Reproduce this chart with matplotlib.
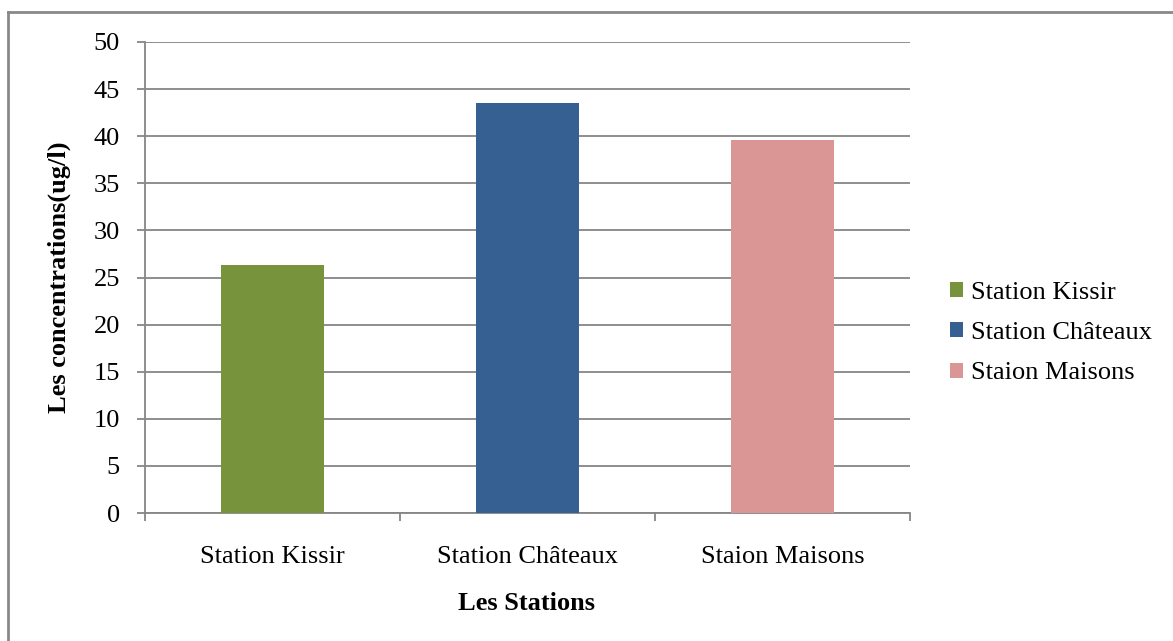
import matplotlib
matplotlib.use("Agg")
import matplotlib.pyplot as plt
from matplotlib.patches import Patch
from matplotlib.lines import Line2D
from matplotlib.ticker import FixedLocator

stations = ["Station Kissir", "Station Châteaux", "Staion Maisons"]
concentrations = [26.3, 43.5, 39.6]
colors = ["#77933C", "#376092", "#D99694"]
y_ticks = [0, 5, 10, 15, 20, 25, 30, 35, 40, 45, 50]

plt.rcParams["font.family"] = ["Liberation Serif", "DejaVu Serif"]
FS = 19
GREY = "#868686"

fig = plt.figure(figsize=(11.73, 6.41), dpi=100)
ax = fig.add_axes([145 / 1173, 1 - 513 / 641, (910 - 145) / 1173, (513 - 42) / 641])

x = list(range(len(stations)))
bars = ax.bar(x, concentrations, width=0.404, color=colors, zorder=3)

ax.set_xlim(-0.5, len(stations) - 0.5)
ax.set_ylim(0, 50)
ax.set_yticks(y_ticks)
ax.yaxis.grid(True, color=GREY, linewidth=1.3, zorder=0)
ax.set_axisbelow(True)

ax.set_xticks(x)
ax.set_xticklabels(stations, fontsize=FS)
ax.xaxis.set_minor_locator(FixedLocator([-0.5, 0.5, 1.5, 2.5]))
ax.tick_params(axis="x", which="major", length=0, pad=24)
ax.tick_params(axis="x", which="minor", length=6, width=1.3, color=GREY)
ax.tick_params(axis="y", labelsize=FS, length=6, width=1.3, color=GREY, pad=12)

for side in ("top", "right"):
    ax.spines[side].set_visible(False)
for side in ("left", "bottom"):
    ax.spines[side].set_color(GREY)
    ax.spines[side].set_linewidth(1.3)

ax.set_ylabel("Les concentrations(ug/l)", fontsize=FS, fontweight="bold", labelpad=16)
fig.text(527 / 1173, 1 - 603 / 641, "Les Stations", fontsize=FS, fontweight="bold",
         ha="center", va="center")

handles = [Patch(facecolor=c, edgecolor="none") for c in colors]
fig.legend(handles, stations, loc="center left", bbox_to_anchor=(950 / 1173, 1 - 333 / 641),
           frameon=False, fontsize=FS, handlelength=0.5, handleheight=0.5,
           handletextpad=0.3, labelspacing=0.7, borderpad=0, borderaxespad=0)

# chart area border (left and top edges)
fig.add_artist(Line2D([8 / 1173, 8 / 1173], [0, 1 - 12 / 641], transform=fig.transFigure,
                      color="#898989", linewidth=2))
fig.add_artist(Line2D([8 / 1173, 1], [1 - 12 / 641, 1 - 12 / 641], transform=fig.transFigure,
                      color="#898989", linewidth=2))

fig.savefig("out.png", dpi=100)
